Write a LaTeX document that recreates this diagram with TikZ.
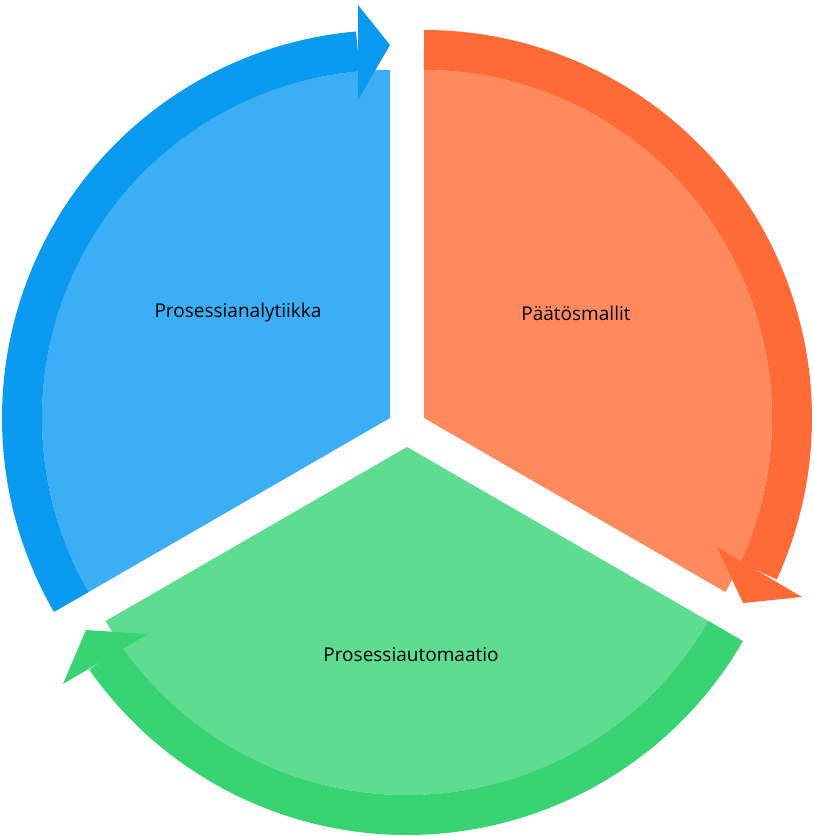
\documentclass[tikz,border=0pt]{standalone}
\usepackage{fontspec}
\setmainfont{Open Sans}
\usetikzlibrary{calc}
\begin{document}
\begin{tikzpicture}[x=1pt,y=-1pt,
  ring/.style={line width=40pt},
  lbl/.style={font=\fontsize{19}{22}\selectfont, text=black}]
\definecolor{bF}{HTML}{3BAEF5}\definecolor{bR}{HTML}{0A9BF0}
\definecolor{oF}{HTML}{FF8A5E}\definecolor{oR}{HTML}{FF6B37}
\definecolor{gF}{HTML}{5EDC90}\definecolor{gR}{HTML}{38D474}
\useasboundingbox (0,0) rectangle (814,836);
\coordinate (B) at (390,418);
\coordinate (O) at (424,418);
\coordinate (G) at (407,447);
% sectors
\fill[bF] (B) -- ++(-90:348) arc[start angle=-90,end angle=-210,radius=348] -- cycle;
\fill[oF] (O) -- ++(-90:348) arc[start angle=-90,end angle=30,radius=348] -- cycle;
\fill[gF] (G) -- ++(-210:348) arc[start angle=-210,end angle=-330,radius=348] -- cycle;
% rings
\draw[ring,bR] ($(B)+(-210:368)$) arc[start angle=-210,end angle=-95,radius=368];
\fill[bR] (390,45) -- (358,5) -- (358,100) -- cycle;
\draw[ring,oR] ($(O)+(-90:368)$) arc[start angle=-90,end angle=24.6,radius=368];
\fill[oR] (743,603) -- (717,547) -- (802,597) -- cycle;
\draw[ring,gR] ($(G)+(30:368)$) arc[start angle=30,end angle=145,radius=368];
\fill[gR] (86,630) -- (148,634) -- (63,684) -- cycle;
% labels
\node[lbl] (l1) at (238,313) {Prosessianalytiikka};
\node[lbl] (l2) at (576,313) {Päätösmallit};
\node[lbl] (l3) at (411,655) {Prosessiautomaatio};
\end{tikzpicture}
\end{document}
